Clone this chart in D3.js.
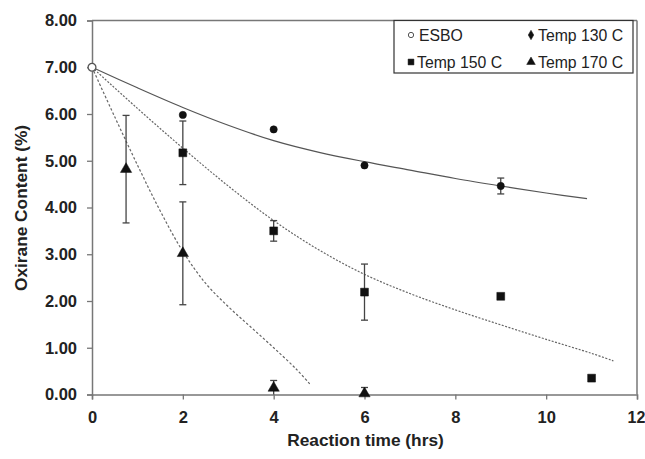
<!DOCTYPE html>
<html><head><meta charset="utf-8">
<script src="https://cdn.jsdelivr.net/npm/d3@7"></script>
<style>
body{margin:0;background:#fff;}
text{font-family:"Liberation Sans",Arial,sans-serif;fill:#222;}
</style></head>
<body><svg id="c" width="645" height="459"></svg>
<script>
// ---- data ----
const xTicks = [0, 2, 4, 6, 8, 10, 12];
const yTicks = [0, 1, 2, 3, 4, 5, 6, 7, 8];

const esboT = [0];
const esboC = [7.00];

const t130 = [2, 4, 6, 9];
const c130 = [5.98, 5.67, 4.90, 4.46];
const e130 = [0, 0, 0, 0.17];

const t150 = [2, 4, 6, 9, 11];
const c150 = [5.17, 3.50, 2.19, 2.10, 0.35];
const e150 = [0.68, 0.22, 0.60, 0, 0];

const t170 = [0.75, 2, 4, 6];
const c170 = [4.82, 3.02, 0.14, 0.02];
const e170 = [1.15, 1.10, 0.16, 0.13];

// fitted trend curves
const fit130T = [0, 1, 2, 3, 4, 5, 6, 7, 8, 9, 10, 10.9];
const fit130C = [7.00, 6.56, 6.14, 5.76, 5.43, 5.18, 4.98, 4.80, 4.62, 4.46, 4.31, 4.19];
const fit150T = [0, 1, 2, 3, 4, 5, 6, 7, 8, 9, 10, 11, 11.48];
const fit150C = [7.00, 6.12, 5.27, 4.46, 3.72, 3.09, 2.57, 2.16, 1.81, 1.49, 1.18, 0.88, 0.72];
const fit170T = [0, 0.5, 1, 1.5, 2, 2.5, 3, 3.5, 4, 4.5, 4.8];
const fit170C = [7.00, 5.94, 4.91, 3.93, 3.06, 2.38, 1.88, 1.44, 1.00, 0.54, 0.22];

const legendLabels = ["ESBO", "Temp 130 C", "Temp 150 C", "Temp 170 C"];

// ---- drawing ----
const svg = d3.select("#c");
const L = 92, R = 637, T = 20.5, B = 394.5;
const x = d3.scaleLinear().domain([0, 12]).range([L, R]);
const y = d3.scaleLinear().domain([0, 8]).range([B, T]);
const axisCol = "#777";

// frame top/right
svg.append("line").attr("x1", L).attr("x2", R).attr("y1", T).attr("y2", T).attr("stroke", axisCol).attr("stroke-width", 1.5);
svg.append("line").attr("x1", R).attr("x2", R).attr("y1", T).attr("y2", B).attr("stroke", axisCol).attr("stroke-width", 1.5);

const gx = svg.append("g").attr("transform", `translate(0,${B})`)
  .call(d3.axisBottom(x).tickValues(xTicks).tickFormat(d3.format("d")).tickSize(5).tickPadding(12));
const gy = svg.append("g").attr("transform", `translate(${L},0)`)
  .call(d3.axisLeft(y).tickValues(yTicks).tickFormat(d3.format(".2f")).tickSize(5).tickPadding(10));
[gx, gy].forEach(g => {
  g.select(".domain").attr("stroke", axisCol).attr("stroke-width", 1.5);
  g.selectAll(".tick line").attr("stroke", axisCol).attr("stroke-width", 1.3);
  g.selectAll(".tick text").attr("font-size", 16.5).attr("font-weight", "bold")
    .attr("font-family", "Liberation Sans, Arial, sans-serif").attr("fill", "#333");
});
gx.selectAll(".tick text").filter(d => d === 12).attr("font-size", 16).attr("dx", -1);

svg.append("text").attr("x", (L + R) / 2 + 1).attr("y", 446).attr("text-anchor", "middle")
  .attr("font-size", 17.3).attr("font-weight", "bold").text("Reaction time (hrs)");
svg.append("text").attr("transform", "translate(27,208) rotate(-90)").attr("text-anchor", "middle")
  .attr("font-size", 17.3).attr("font-weight", "bold").text("Oxirane Content (%)");

// fit curves
const line = d3.line().x(d => x(d[0])).y(d => y(d[1])).curve(d3.curveCatmullRom.alpha(0.5));
const fits = [
  [fit130T, fit130C, null, "#555"],
  [fit150T, fit150C, "2,1.5", "#666"],
  [fit170T, fit170C, "2.5,2", "#666"]
];
fits.forEach(([ts, cs, dash, col]) => {
  svg.append("path").datum(ts.map((t, i) => [t, cs[i]]))
    .attr("d", line).attr("fill", "none").attr("stroke", col).attr("stroke-width", 1.2)
    .attr("stroke-dasharray", dash);
});

// error bars
function errBars(ts, cs, es) {
  ts.forEach((t, i) => {
    if (!es[i]) return;
    const cx = x(t), y1 = y(cs[i] + es[i]), y2 = y(Math.max(cs[i] - es[i], 0));
    const g = svg.append("g").attr("stroke", "#444").attr("stroke-width", 1.3);
    g.append("line").attr("x1", cx).attr("x2", cx).attr("y1", y1).attr("y2", y2);
    g.append("line").attr("x1", cx - 3.5).attr("x2", cx + 3.5).attr("y1", y1).attr("y2", y1);
    if (cs[i] - es[i] > 0) g.append("line").attr("x1", cx - 3.5).attr("x2", cx + 3.5).attr("y1", y2).attr("y2", y2);
  });
}
errBars(t130, c130, e130);
errBars(t150, c150, e150);
errBars(t170, c170, e170);

// markers
const sym = (type, size) => d3.symbol().type(type).size(size);
function markers(ts, cs, type, size, filled) {
  svg.append("g").selectAll("path").data(ts.map((t, i) => [t, cs[i]])).join("path")
    .attr("transform", d => `translate(${x(d[0])},${y(d[1])})`)
    .attr("d", sym(type, size)())
    .attr("fill", filled ? "#111" : "#fff").attr("stroke", filled ? "#111" : "#555").attr("stroke-width", filled ? 0.5 : 1.3);
}
markers(t130, c130, d3.symbolCircle, 42, true);
markers(t150, c150, d3.symbolSquare, 62, true);
markers(t170, c170, d3.symbolTriangle, 55, true);
markers(esboT, esboC, d3.symbolCircle, 48, false);

// legend
const lg = svg.append("g");
lg.append("rect").attr("x", 394).attr("y", 20.5).attr("width", 239).attr("height", 52.5)
  .attr("fill", "#fff").attr("stroke", "#333").attr("stroke-width", 1.2);
const items = [
  {lab: legendLabels[0], mx: 411, tx: 419, y: 35, type: d3.symbolCircle, size: 22, filled: false},
  {lab: legendLabels[1], mx: 531, tx: 538, y: 35, type: d3.symbolDiamond, size: 26, filled: true},
  {lab: legendLabels[2], mx: 411, tx: 417, y: 62, type: d3.symbolSquare, size: 34, filled: true},
  {lab: legendLabels[3], mx: 531, tx: 538, y: 62, type: d3.symbolTriangle, size: 32, filled: true}
];
items.forEach(it => {
  lg.append("path").attr("transform", `translate(${it.mx},${it.y})`).attr("d", sym(it.type, it.size)())
    .attr("fill", it.filled ? "#111" : "#fff").attr("stroke", it.filled ? "#111" : "#555").attr("stroke-width", it.filled ? 0.5 : 1);
  lg.append("text").attr("x", it.tx).attr("y", it.y).attr("dy", "0.36em").attr("font-size", 15.8).attr("fill", "#333").text(it.lab);
});
</script></body></html>
